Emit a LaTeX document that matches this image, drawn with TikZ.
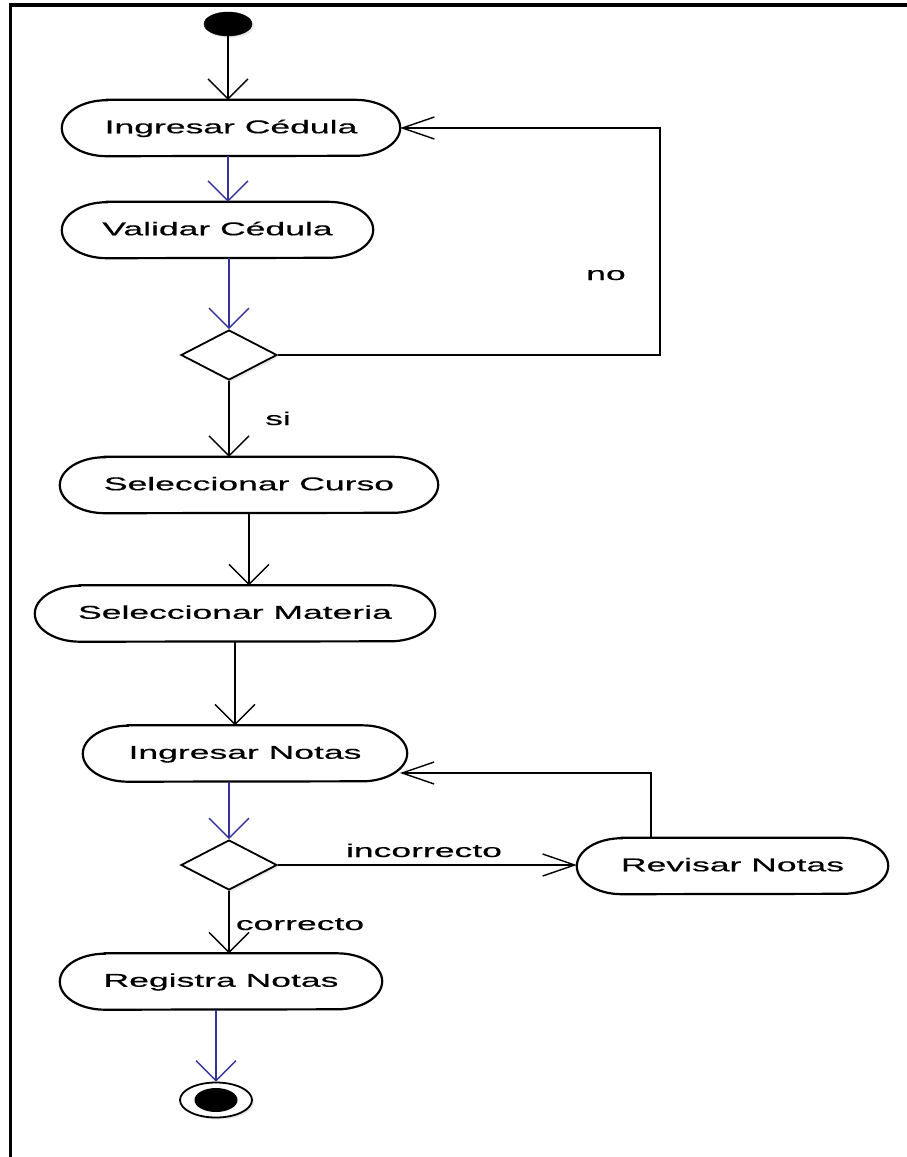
\documentclass[tikz,border=0pt]{standalone}
\usepackage{fontspec}
\setmainfont{Liberation Sans}[FakeStretch=1.92,FakeBold=0.4]
\usetikzlibrary{arrows.meta,shapes.geometric,backgrounds,shadows}
\definecolor{flowblue}{RGB}{51,51,153}

\begin{document}
\begin{tikzpicture}[x=1pt,y=-1pt,
  txt/.style={font=\fontsize{18.5}{22}\selectfont},
  act/.style={txt,rectangle,inner sep=0pt,minimum height=56pt,
              text height=1.15em,text depth=0.1em},
  lbl/.style={txt,inner sep=0pt,anchor=base},
  choice/.style={diamond,draw,line width=1.8pt,inner sep=0pt,
                 minimum width=96pt,minimum height=50pt,fill=white,
                 drop shadow={shadow xshift=2pt,shadow yshift=-2pt,fill=gray!35}},
  vflow/.style={line width=1.7pt,
                -{Straight Barb[length=20pt,width=40pt,line width=1.4pt]}},
  hflow/.style={line width=1.7pt,
                -{Straight Barb[length=32pt,width=22pt,line width=1.4pt]}},
  blueflow/.style={vflow,draw=flowblue},
  capsule/.style={line width=2.2pt,fill=white},
  capshadow/.style={fill=gray!35,draw=none}
]
% page and frame
\useasboundingbox (0,0) rectangle (906,1157);
\draw[line width=3.2pt] (10.5,1160) -- (10.5,5) -- (910,5);

% initial and final states
\node[ellipse,fill=black,draw=black,inner sep=0pt,minimum width=48pt,minimum height=24pt,
      drop shadow={shadow xshift=2pt,shadow yshift=-2pt,fill=gray!35}] (start) at (228,24) {};
\node[ellipse,draw,line width=1.8pt,fill=white,inner sep=0pt,minimum width=72pt,minimum height=35pt,
      drop shadow={shadow xshift=2pt,shadow yshift=-2pt,fill=gray!35}] (end) at (216,1100) {};
\node[ellipse,fill=black,inner sep=0pt,minimum width=43pt,minimum height=24pt] (endin) at (216,1100) {};

% activities
\node[act,minimum width=338pt] (ic)   at (231,128)   {Ingresar Cédula};
\node[act,minimum width=311pt] (vc)   at (217.5,230) {Validar Cédula};
\node[act,minimum width=378pt] (sc)   at (249,485)   {Seleccionar Curso};
\node[act,minimum width=400pt] (sm)   at (235,613.5) {Seleccionar Materia};
\node[act,minimum width=324pt] (inot) at (245,753.5) {Ingresar Notas};
\node[act,minimum width=311pt] (rn)   at (732.5,866) {Revisar Notas};
\node[act,minimum width=322pt] (rg)   at (221,981.5) {Registra Notas};

% decisions
\node[choice] (d1) at (229,355) {};
\node[choice] (d2) at (229,865) {};

% capsule outlines (with soft shadow) behind the activity texts
\begin{pgfonlayer}{background}
\foreach \n in {ic,vc,sc,sm,inot,rn,rg}{
  \fill[capshadow,shift={(3,2.5)}]
    ([xshift=45pt]\n.north west) -- ([xshift=-45pt]\n.north east)
    arc[start angle=90,end angle=-90,x radius=45pt,y radius=28pt]
    -- ([xshift=45pt]\n.south west)
    arc[start angle=270,end angle=90,x radius=45pt,y radius=28pt] -- cycle;
  \draw[capsule]
    ([xshift=45pt]\n.north west) -- ([xshift=-45pt]\n.north east)
    arc[start angle=90,end angle=-90,x radius=45pt,y radius=28pt]
    -- ([xshift=45pt]\n.south west)
    arc[start angle=270,end angle=90,x radius=45pt,y radius=28pt] -- cycle;
}
\end{pgfonlayer}

% helper points for the loops
\coordinate (noCorner) at (660,355);
\coordinate (fbCorner) at (651,773);
\coordinate (fbTip)    at (400,773);

% flows
\draw[vflow] (start.south) -- (start.south |- ic.north);
\draw[blueflow] (ic.south -| start) -- (vc.north -| start);
\draw[blueflow] (vc.south -| d1) -- (d1.north);
\draw[hflow] (d1.east) -- (noCorner) |- (ic.east);
\draw[vflow] (d1.south) -- (d1.south |- sc.north);
\draw[vflow] (sc.south) -- (sc.south |- sm.north);
\draw[vflow] (sm.south) -- (sm.south |- inot.north);
\draw[blueflow] (inot.south -| d2) -- (d2.north);
\draw[hflow] (d2.east) -- (d2.east -| rn.west);
\draw[hflow] (rn.north -| fbCorner) -- (fbCorner) -- (fbTip);
\draw[vflow] (d2.south) -- (d2.south |- rg.north);
\draw[blueflow] (rg.south -| end) -- (end.north);

% guard labels
\node[lbl] (noLbl)   at (606,280) {no};
\node[lbl] (siLbl)   at (278,425) {si};
\node[lbl] (incLbl)  at (424,857) {incorrecto};
\node[lbl] (corLbl)  at (300,930) {correcto};
\end{tikzpicture}
\end{document}
